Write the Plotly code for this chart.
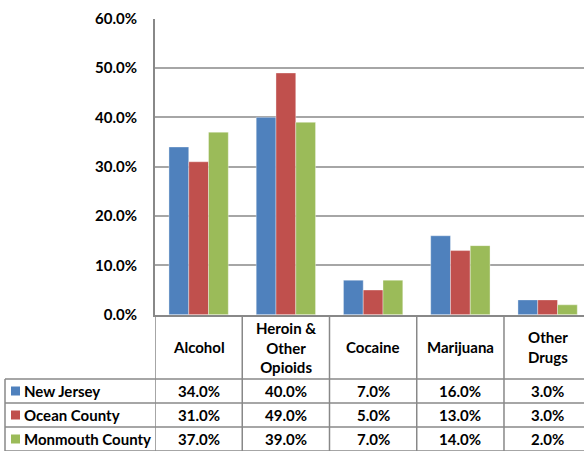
import plotly.graph_objects as go

W, H = 584, 451

categories = ["Alcohol", "Heroin &<br>Other<br>Opioids", "Cocaine", "Marijuana", "Other<br>Drugs"]
series_names = ["New Jersey", "Ocean County", "Monmouth County"]
new_jersey = [0.34, 0.40, 0.07, 0.16, 0.03]
ocean_county = [0.31, 0.49, 0.05, 0.13, 0.03]
monmouth_county = [0.37, 0.39, 0.07, 0.14, 0.02]
colors = ["#4F81BD", "#C0504D", "#9BBB59"]

series_values = [new_jersey, ocean_county, monmouth_county]
grid_col = "#A6A6A6"
line_col = "#888888"


def px_x(px):
    return px / W


def px_y(py):
    return 1 - py / H


fig = go.Figure()
xs = list(range(len(categories)))
for name, vals, col in zip(series_names, series_values, colors):
    fig.add_trace(go.Bar(
        x=xs, y=vals, name=name, marker_color=col,
        marker_line=dict(color="rgba(255,255,255,0.6)", width=0.6),
    ))

# data table under the plot
shapes = []
row_tops = [379, 403, 427, 451]
for i in range(len(categories) + 1):
    shapes.append(dict(type="line", xref="x", yref="paper", x0=i - 0.5, x1=i - 0.5,
                       y0=px_y(315), y1=px_y(451), line=dict(color=line_col, width=1.5)))
shapes.append(dict(type="line", xref="paper", yref="paper", x0=px_x(5), x1=px_x(5),
                   y0=px_y(379), y1=px_y(451), line=dict(color=line_col, width=1.5)))
for r in row_tops:
    shapes.append(dict(type="line", xref="paper", yref="paper", x0=px_x(5), x1=1,
                       y0=px_y(r), y1=px_y(r), line=dict(color=line_col, width=1.5)))

annotations = []
for i, cat in enumerate(categories):
    annotations.append(dict(x=i, y=px_y(347), xref="x", yref="paper", text=cat,
                            showarrow=False, font=dict(size=15), align="center",
                            xanchor="center", yanchor="middle"))
for k, (name, vals, col) in enumerate(zip(series_names, series_values, colors)):
    cy = (row_tops[k] + row_tops[k + 1]) / 2
    shapes.append(dict(type="rect", xref="paper", yref="paper",
                       x0=px_x(11), x1=px_x(20), y0=px_y(cy + 4.5), y1=px_y(cy - 4.5),
                       fillcolor=col, line=dict(width=0)))
    annotations.append(dict(x=px_x(22), y=px_y(cy), xref="paper", yref="paper", text=name,
                            showarrow=False, xanchor="left", yanchor="middle",
                            font=dict(size=15)))
    for i, v in enumerate(vals):
        annotations.append(dict(x=i, y=px_y(cy), xref="x", yref="paper", text=f"{v:.1%}",
                                showarrow=False, xanchor="center", yanchor="middle",
                                font=dict(size=15)))

fig.update_layout(
    width=W, height=H,
    margin=dict(l=0, r=0, t=0, b=0, pad=0),
    paper_bgcolor="white", plot_bgcolor="white",
    font=dict(family="Lato", size=14, color="black", weight="bold"),
    barmode="group", bargap=0.32, bargroupgap=0,
    showlegend=False,
    shapes=shapes, annotations=annotations,
)
fig.update_xaxes(
    domain=[px_x(155), 1], range=[-0.5, 4.417], automargin=False,
    showticklabels=False, showgrid=False, zeroline=False,
    showline=True, linecolor=line_col, linewidth=2,
)
fig.update_yaxes(
    domain=[px_y(314.7), px_y(18.7)], range=[0, 0.6], dtick=0.1, automargin=False,
    tickformat=".1%", showgrid=True, gridcolor=grid_col, gridwidth=1.5,
    zeroline=False, showline=True, linecolor=line_col, linewidth=2,
    ticklabelstandoff=13, tickfont=dict(size=15),
)

fig.write_html("out.html", config={"displayModeBar": False},
               post_script="document.body.style.margin='0';")
